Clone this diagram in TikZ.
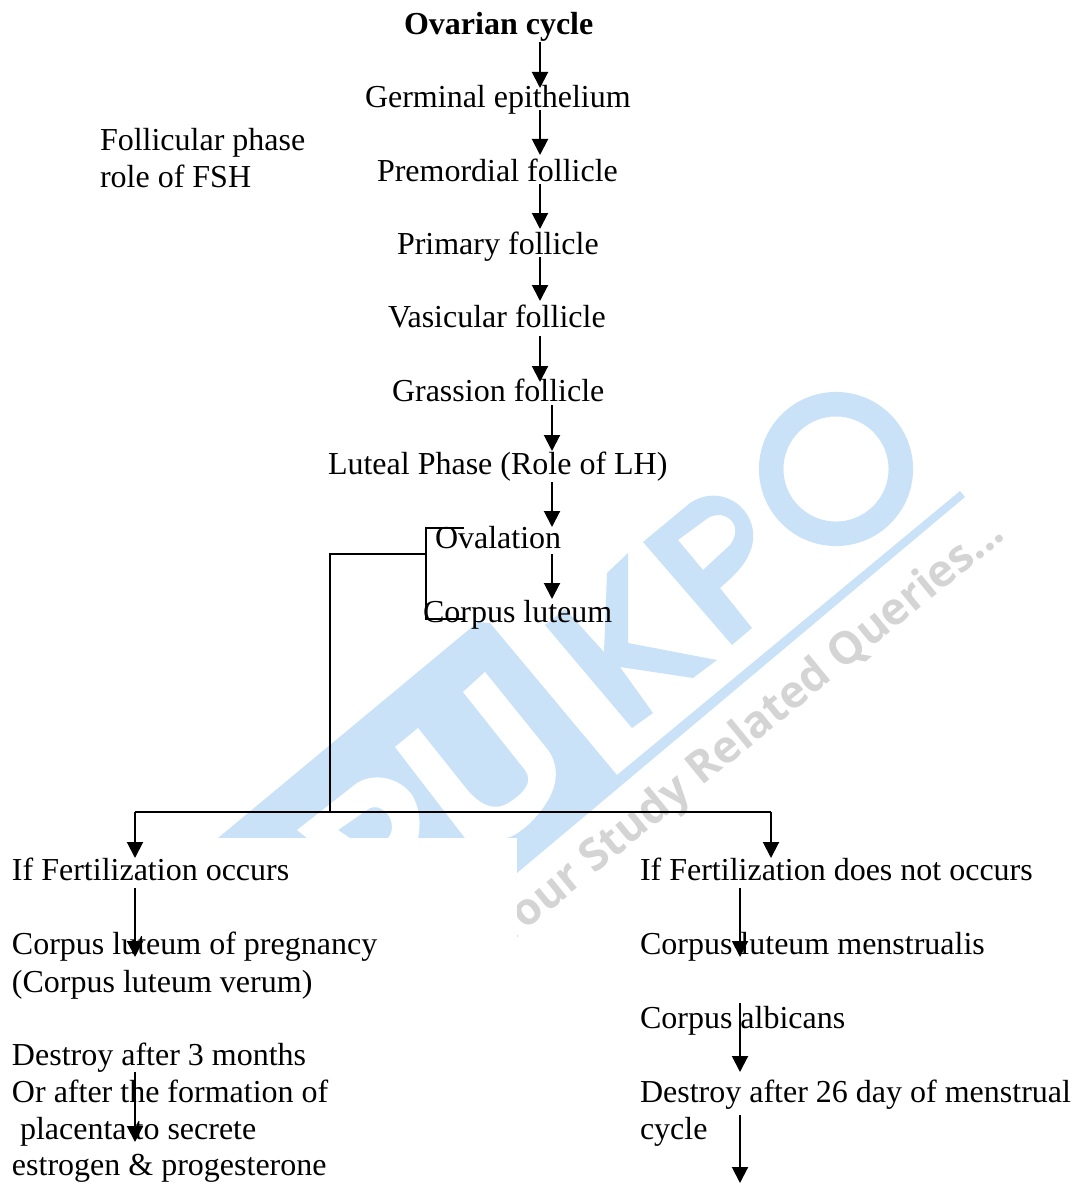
\documentclass[tikz,border=0pt]{standalone}
\usepackage{fontspec}
\setmainfont{Liberation Serif}
\newfontfamily\wmfont{Open Sans}
\usetikzlibrary{arrows.meta}
\definecolor{wmblue}{HTML}{C9E2F8}
\definecolor{wmgray}{HTML}{D4D4D4}
\tikzset{
  lab/.style={anchor=base west,inner sep=0pt,outer sep=0pt,font=\fontsize{24}{27.6}\selectfont,text=black},
  conn/.style={line width=1.5pt,black},
  arr/.style={line width=1.5pt,black,-{Triangle[length=12pt,width=12pt]}},
  wm/.style={fill=wmblue,draw=none},
  wmcut/.style={fill=white,draw=none}
}
\begin{document}
\begin{tikzpicture}[x=0.75pt,y=-0.75pt]
\useasboundingbox (0,0) rectangle (1078,1184);
% watermark
\node[anchor=base east,inner sep=0pt,rotate=39.3,text=wmgray,font=\wmfont\bfseries\fontsize{33.5}{40}\selectfont] (wmtext) at (1007,537) {Your Study Related Queries...};
\fill[wm] (218,838) -- (478,622) -- (490,623) -- (617,775) -- (960,491) -- (965,497) -- (517,873) -- (517,838) -- cycle;
\fill[wmcut] (418,728) -- (465,787) .. controls (480,806) and (495,812) .. (510,802) .. controls (528,790) and (532,780) .. (525,770) -- (463,692) -- (485,672) -- (548,750) .. controls (562,770) and (558,795) .. (530,823) .. controls (518,834) and (510,838) .. (505,838) -- (465,838) -- (395,747) -- cycle;
\fill[wmcut,even odd rule] (297,830) -- (357,783) .. controls (375,772) and (400,778) .. (412,795) .. controls (420,808) and (421,825) .. (418,838) -- (307,838) -- cycle
  (338,830) -- (370,808) .. controls (380,804) and (392,814) .. (392,827) .. controls (392,832) and (390,836) .. (388,838) -- (350,838) -- cycle;
\fill[wm] (545,625) -- (565,609) -- (604,652) -- (607,573) -- (628,553) -- (628,643) -- (717,660) -- (693,678) -- (620,667) -- (653,713) -- (632,728) -- cycle;
\fill[wm,even odd rule] (643,542) -- (690,503) .. controls (725,480) and (765,515) .. (750,552) .. controls (745,565) and (735,575) .. (720,588) -- (752,628) -- (732,645) -- cycle
  (678,540) -- (708,518) .. controls (725,508) and (745,525) .. (730,545) -- (703,570) -- cycle;
\fill[wm,even odd rule] (836,469) circle [radius=57.8pt] (836,469) circle [radius=39.4pt];
\fill[wmcut] (0,838) rectangle (517,1184);
% labels
\node[lab,font=\fontsize{24}{27.6}\selectfont\bfseries] (ovarian) at (404,35) {Ovarian cycle};
\node[lab] (germinal) at (365,108) {Germinal epithelium};
\node[lab] (premordial) at (377,181) {Premordial follicle};
\node[lab] (primary) at (397,254) {Primary follicle};
\node[lab] (vasicular) at (388,327) {Vasicular follicle};
\node[lab] (grassion) at (392,401) {Grassion follicle};
\node[lab] (luteal) at (328,474) {Luteal Phase (Role of LH)};
\node[lab] (ovalation) at (435,548) {Ovalation};
\node[lab] (corpus) at (423,622) {Corpus luteum};
\node[lab] (foll1) at (100,151) {Follicular phase};
\node[lab] (foll2) at (100,187) {role of FSH};
\node[lab] (iffert) at (12,880) {If Fertilization occurs};
\node[lab] (preg1) at (12,954) {Corpus luteum of pregnancy};
\node[lab] (preg2) at (12,992) {(Corpus luteum verum)};
\node[lab] (destroyA) at (12,1065) {Destroy after 3 months};
\node[lab] (destroyB) at (12,1102) {Or after the formation of};
\node[lab] (destroyC) at (20,1139) {placenta to secrete};
\node[lab] (destroyD) at (12,1175) {estrogen \& progesterone};
\node[lab] (ifnot) at (640,880) {If Fertilization does not occurs};
\node[lab] (mens) at (640,954) {Corpus luteum menstrualis};
\node[lab] (albi) at (640,1028) {Corpus albicans};
\node[lab] (destR1) at (640,1102) {Destroy after 26 day of menstrual};
\node[lab] (destR2) at (640,1139) {cycle};
% connector end points
\coordinate (a1) at (540,42);   \coordinate (b1) at (540,88);
\coordinate (a2) at (540,110);  \coordinate (b2) at (540,155);
\coordinate (a3) at (540,184);  \coordinate (b3) at (540,229);
\coordinate (a4) at (540,257);  \coordinate (b4) at (540,301);
\coordinate (a5) at (540,336);  \coordinate (b5) at (540,382);
\coordinate (a6) at (552,405);  \coordinate (b6) at (552,451);
\coordinate (a7) at (552,482);  \coordinate (b7) at (552,527);
\coordinate (a8) at (552,554);  \coordinate (b8) at (552,599);
\coordinate (brT) at (464,528); \coordinate (brTL) at (426,528);
\coordinate (brB) at (464,619); \coordinate (brBL) at (426,619);
\coordinate (brM) at (426,554); \coordinate (corner) at (330,554);
\coordinate (bus) at (330,812);
\coordinate (busL) at (135,812); \coordinate (busR) at (771,812);
\coordinate (tipL) at (135,858); \coordinate (tipR) at (771,858);
\coordinate (c1) at (135,888);  \coordinate (d1) at (135,957);
\coordinate (c2) at (135,1072); \coordinate (d2) at (135,1142);
\coordinate (e1) at (740,888);  \coordinate (f1) at (740,957);
\coordinate (e2) at (740,1003); \coordinate (f2) at (740,1072);
\coordinate (e3) at (740,1115); \coordinate (f3) at (740,1183);
% connectors
\foreach \s/\t in {a1/b1,a2/b2,a3/b3,a4/b4,a5/b5,a6/b6,a7/b7,a8/b8,busL/tipL,busR/tipR,c1/d1,c2/d2,e1/f1,e2/f2,e3/f3}
  \draw[arr] (\s) -- (\t);
\draw[conn] (brT) -- (brTL) -- (brBL) -- (brB);
\draw[conn] (brM) -- (corner) -- (bus);
\draw[conn] (busL) -- (busR);
\end{tikzpicture}
\end{document}
